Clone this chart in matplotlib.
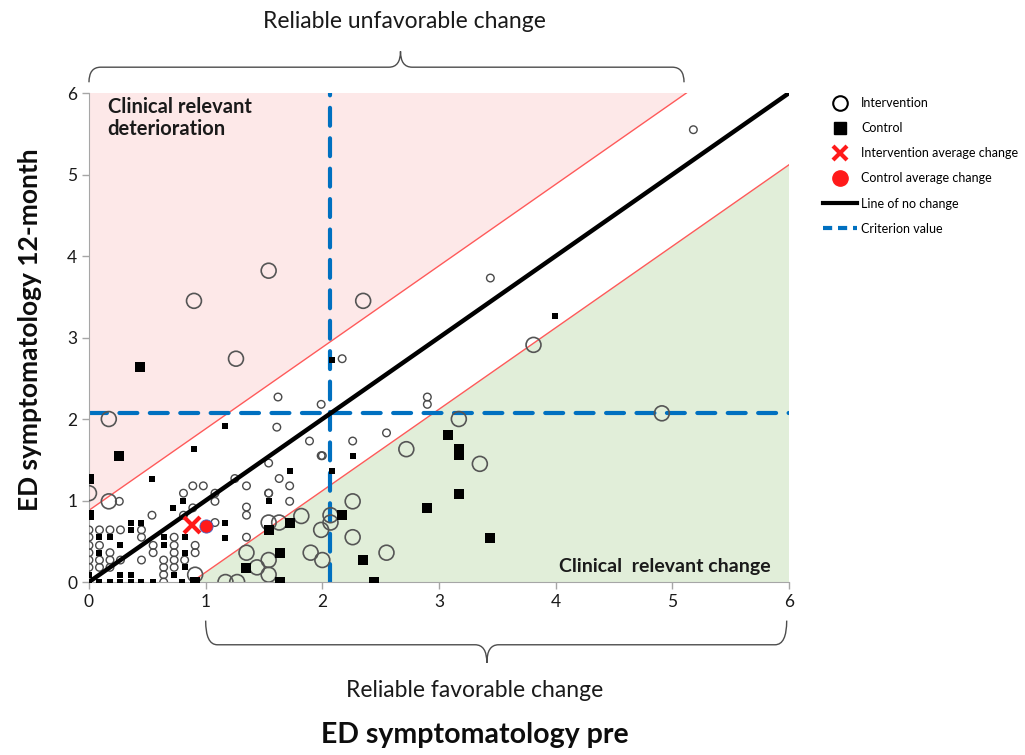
import numpy as np
import matplotlib.pyplot as plt
import matplotlib.transforms as mtransforms
from matplotlib.lines import Line2D
from matplotlib.path import Path
from matplotlib.patches import PathPatch, Polygon

plt.rcParams['font.family'] = ['Lato', 'DejaVu Sans']

# intervention group: (pre, 12-month)
int_x = [0, 0, 0, 0, 0, 0, 0.09, 0.09, 0.09, 0.09, 0.18, 0.18, 0.18, 0.18,
         0.27, 0.27, 0.45, 0.45, 0.45, 0.55, 0.55, 0.64, 0.64, 0.64, 0.64,
         0.73, 0.73, 0.73, 0.73, 0.73, 0.82, 0.91, 0.91,
         0, 0.17, 0.26, 0.81, 0.89, 0.98, 0.89, 0.81, 1.08, 1.08, 0.54, 1.08,
         1.35, 1.35, 1.35, 1.35, 1.25, 1.54, 1.54, 1.63, 1.72, 1.72, 1.54,
         1.61, 1.62, 1.99, 1.89, 1.99, 2.0, 2.17, 2.26, 2.55, 2.9, 2.9, 3.44,
         5.18, 0.91, 1.17, 1.27, 1.44, 1.54, 1.54, 1.35, 1.54, 1.63, 1.82,
         1.99, 2.0, 2.07, 2.07, 2.26, 2.26, 2.55, 1.9, 2.72, 3.17, 3.35,
         3.81, 4.91, 0.17, 0.9, 1.26, 1.54, 2.35]
int_y = [0.64, 0.55, 0.45, 0.36, 0.27, 0.18, 0.64, 0.45, 0.27, 0.18, 0.64, 0.36, 0.27, 0.18,
         0.64, 0.27, 0.64, 0.55, 0.27, 0.45, 0.36, 0.27, 0.18, 0.09, 0,
         0.55, 0.45, 0.36, 0.27, 0.18, 0.27, 0.45, 0.36,
         1.09, 0.99, 0.99, 1.09, 1.18, 1.18, 0.91, 0.82, 1.09, 0.99, 0.82, 0.73,
         1.18, 0.92, 0.82, 0.55, 1.27, 1.46, 1.09, 1.27, 1.18, 0.99, 1.09,
         1.9, 2.27, 2.18, 1.73, 1.55, 1.55, 2.74, 1.73, 1.83, 2.27, 2.18, 3.73,
         5.55, 0.09, 0, 0, 0.18, 0.27, 0.09, 0.36, 0.73, 0.73, 0.81,
         0.64, 0.27, 0.82, 0.73, 0.99, 0.55, 0.36, 0.36, 1.63, 2.0, 1.45,
         2.91, 2.07, 2.0, 3.45, 2.74, 3.82, 3.45]

# control group: (pre, 12-month)
ctrl_x = [0, 0.09, 0.18, 0.27, 0.36, 0.45, 0.55, 0.8, 0.91,
          0, 0.27, 0.36, 0.09, 0.09, 0.18, 0.27, 0.36, 0.45, 0.36, 0.64,
          0.82, 0.64, 0.82, 0.82, 0.73,
          0, 0, 0.26, 0.44, 0.54, 0.72, 0.81, 0.9, 1.17, 1.17, 1.17, 1.54,
          1.54, 1.72, 1.72, 2.08, 2.08, 2.26, 3.99,
          1.35, 1.64, 1.64, 2.17, 2.35, 2.44, 2.9, 3.08, 3.17, 3.17, 3.17, 3.44]
ctrl_y = [0, 0, 0, 0, 0, 0, 0, 0, 0,
          0.09, 0.09, 0.09, 0.55, 0.36, 0.55, 0.45, 0.73, 0.73, 0.64, 0.55,
          0.55, 0.45, 0.36, 0.18, 0.09,
          0.82, 1.26, 1.55, 2.64, 1.27, 0.91, 0.99, 1.63, 1.91, 0.73, 0.54, 0.99,
          0.64, 0.72, 1.36, 1.36, 2.72, 1.55, 3.26,
          0.17, 0.36, 0, 0.82, 0.27, 0, 0.91, 1.81, 1.63, 1.56, 1.08, 0.54]

int_avg = (0.88, 0.70)
ctrl_avg = (1.0, 0.69)
criterion = 2.07     # criterion value (cut-off)
rci = 0.88           # reliable change band
ticks = [0, 1, 2, 3, 4, 5, 6]

fig = plt.figure(figsize=(10.25, 7.55), dpi=100)
ax = fig.add_axes([0.0868, 0.2291, 0.683, 0.6477])
ax.set_xlim(0, 6)
ax.set_ylim(0, 6)

# reliable change regions
ax.add_patch(Polygon([(0, rci), (6 - rci, 6), (0, 6)], closed=True,
                     facecolor='#fde8e8', edgecolor='none', zorder=0))
ax.add_patch(Polygon([(rci, 0), (6, 6 - rci), (6, 0)], closed=True,
                     facecolor='#e1eed9', edgecolor='none', zorder=0))
ax.plot([0, 6 - rci], [rci, 6], color='#ff5a5a', lw=1, zorder=1)
ax.plot([rci, 6], [0, 6 - rci], color='#ff5a5a', lw=1, zorder=1)

# criterion lines
ax.plot([0, 6], [criterion, criterion], color='#0070c0', lw=3,
        dashes=(4.3, 3.0), dash_capstyle='round', zorder=2)
ax.plot([criterion, criterion], [0, 6], color='#0070c0', lw=3,
        dashes=(4.3, 3.0), dash_capstyle='round', zorder=2)

# points: bigger markers for reliable change
ix, iy = np.array(int_x), np.array(int_y)
cx, cy = np.array(ctrl_x), np.array(ctrl_y)
ibig = np.abs(iy - ix) > 0.8
cbig = np.abs(cy - cx) > 0.8
ax.scatter(ix[~ibig], iy[~ibig], s=30, facecolor='none', edgecolor='#4a4a4a',
           linewidth=1.0, zorder=3)
ax.scatter(ix[ibig], iy[ibig], s=115, facecolor='none', edgecolor='#555555',
           linewidth=1.2, zorder=3)
ax.scatter(cx[~cbig], cy[~cbig], s=20, marker='s', color='black',
           linewidth=0, zorder=3)
ax.scatter(cx[cbig], cy[cbig], s=42, marker='s', color='black',
           linewidth=0, zorder=3)

# line of no change
ax.plot([0, 6], [0, 6], color='black', lw=3.2, zorder=4, solid_capstyle='butt')

# average change
ax.plot(*int_avg, marker='x', ms=11, mew=3, color='#ff1a1a', ls='none', zorder=5)
ax.plot(*ctrl_avg, marker='o', ms=9.5, mfc='#ff1a1a', mec='#4060c0', mew=0.6,
        ls='none', zorder=5)

# axes style
for s in ['top', 'right']:
    ax.spines[s].set_visible(False)
for s in ['left', 'bottom']:
    ax.spines[s].set_color('#a6a6a6')
ax.set_xticks(ticks)
ax.set_yticks(ticks)
ax.tick_params(colors='#a6a6a6', labelcolor='#1a1a1a', labelsize=12.5,
               length=5, width=1)

ax.text(0.16, 5.95, 'Clinical relevant\ndeterioration', fontsize=14.5,
        fontweight='bold', va='top', ha='left', linespacing=1.15, color='#1a1a1a')
ax.text(5.84, 0.19, 'Clinical  relevant change', fontsize=14,
        fontweight='bold', va='center', ha='right', color='#1a1a1a')

# braces
def brace(x0, x1, xm, y_end, y_line, y_tip, r=0.1):
    tr = mtransforms.blended_transform_factory(ax.transData, fig.transFigure)
    verts = [(x0, y_end), (x0, y_line), (x0 + r, y_line),
             (xm - r, y_line), (xm, y_line), (xm, y_tip),
             (xm, y_line), (xm + r, y_line),
             (x1 - r, y_line), (x1, y_line), (x1, y_end)]
    codes = [Path.MOVETO, Path.CURVE3, Path.CURVE3, Path.LINETO,
             Path.CURVE3, Path.CURVE3, Path.CURVE3, Path.CURVE3,
             Path.LINETO, Path.CURVE3, Path.CURVE3]
    p = PathPatch(Path(verts, codes), transform=tr, facecolor='none',
                  edgecolor='#4d4d4d', lw=1, clip_on=False)
    fig.add_artist(p)

brace(0, 5.1, 2.67, 0.891, 0.911, 0.932)
brace(1.0, 5.98, 3.41, 0.178, 0.146, 0.122)

fig.text(0.395, 0.971, 'Reliable unfavorable change', fontsize=16.5,
         ha='center', va='center', color='#1a1a1a')
fig.text(0.463, 0.085, 'Reliable favorable change', fontsize=16.5,
         ha='center', va='center', color='#1a1a1a')
fig.text(0.463, 0.026, 'ED symptomatology pre', fontsize=20.5,
         fontweight='bold', ha='center', va='center', color='#0d0d0d')
fig.text(0.029, 0.563, 'ED symptomatology 12-month', fontsize=19,
         fontweight='bold', ha='center', va='center', rotation=90, color='#0d0d0d')

# legend
handles = [
    Line2D([], [], marker='o', ls='none', ms=10.5, mfc='none', mec='black', mew=1.5),
    Line2D([], [], marker='s', ls='none', ms=8.5, color='black'),
    Line2D([], [], marker='x', ls='none', ms=10, mew=3, color='#ff1a1a'),
    Line2D([], [], marker='o', ls='none', ms=11, color='#ff1a1a'),
    Line2D([], [], color='black', lw=3),
    Line2D([], [], color='#0070c0', lw=3, dashes=(2.2, 1.4)),
]
labels = ['Intervention', 'Control', 'Intervention average change',
          'Control average change', 'Line of no change', 'Criterion value']
fig.legend(handles, labels, loc='upper left', bbox_to_anchor=(0.798, 0.878),
           frameon=False, fontsize=9, handlelength=2.7, handletextpad=0.35,
           labelspacing=1.05, borderaxespad=0)

fig.savefig('out.png', dpi=100, facecolor='white')
